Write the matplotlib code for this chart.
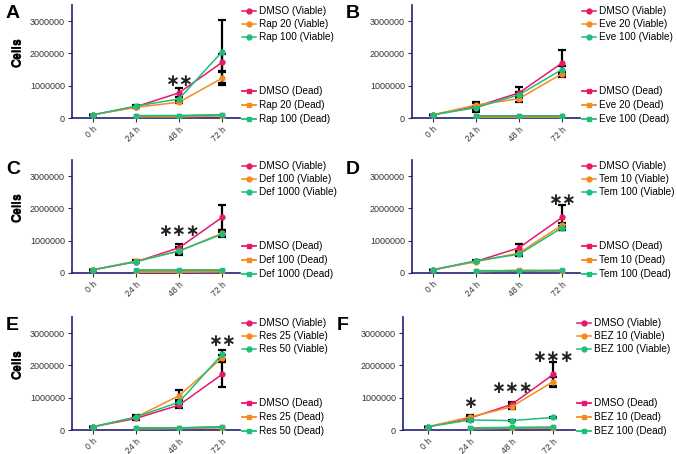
import matplotlib.pyplot as plt
from matplotlib.lines import Line2D

plt.rcParams['font.family'] = ['Liberation Sans', 'DejaVu Sans']

hours = ['0 h', '24 h', '48 h', '72 h']
x_viable = [0, 1, 2, 3]
x_dead = [1, 2, 3]

# panel A - rapamycin
a_names = ['DMSO', 'Rap 20', 'Rap 100']
a_viable = [[100000, 350000, 780000, 1720000],
            [100000, 330000, 490000, 1230000],
            [100000, 370000, 590000, 2050000]]
a_err = [[0, 20000, 140000, 270000],
         [0, 20000, 30000, 200000],
         [0, 20000, 70000, 980000]]
a_dead = [[60000, 60000, 90000], [40000, 40000, 70000], [70000, 75000, 100000]]

# panel B - everolimus
b_names = ['DMSO', 'Eve 20', 'Eve 100']
b_viable = [[100000, 350000, 780000, 1700000],
            [100000, 400000, 600000, 1370000],
            [100000, 320000, 720000, 1500000]]
b_err = [[0, 150000, 170000, 420000],
         [0, 80000, 100000, 50000],
         [0, 60000, 80000, 100000]]
b_dead = [[60000, 60000, 60000], [40000, 40000, 40000], [70000, 70000, 70000]]

# panel C - deforolimus
c_names = ['DMSO', 'Def 100', 'Def 1000']
c_viable = [[100000, 350000, 780000, 1720000],
            [100000, 370000, 680000, 1230000],
            [100000, 350000, 680000, 1200000]]
c_err = [[0, 20000, 120000, 400000],
         [0, 20000, 130000, 110000],
         [0, 20000, 100000, 60000]]
c_dead = [[60000, 60000, 70000], [30000, 30000, 40000], [80000, 80000, 80000]]

# panel D - temsirolimus
d_names = ['DMSO', 'Tem 10', 'Tem 100']
d_viable = [[100000, 360000, 780000, 1720000],
            [100000, 350000, 620000, 1480000],
            [100000, 380000, 580000, 1400000]]
d_err = [[0, 20000, 120000, 400000],
         [0, 20000, 50000, 70000],
         [0, 20000, 40000, 60000]]
d_dead = [[60000, 60000, 70000], [40000, 80000, 60000], [70000, 70000, 80000]]

# panel E - resveratrol
e_names = ['DMSO', 'Res 25', 'Res 50']
e_viable = [[100000, 360000, 770000, 1720000],
            [100000, 400000, 1060000, 2230000],
            [100000, 400000, 860000, 2340000]]
e_err = [[0, 20000, 90000, 400000],
         [0, 80000, 190000, 100000],
         [0, 40000, 60000, 130000]]
e_dead = [[60000, 60000, 90000], [40000, 50000, 70000], [60000, 60000, 100000]]

# panel F - BEZ235
f_names = ['DMSO', 'BEZ 10', 'BEZ 100']
f_viable = [[100000, 370000, 790000, 1720000],
            [100000, 400000, 720000, 1500000],
            [100000, 310000, 290000, 390000]]
f_err = [[0, 100000, 90000, 400000],
         [0, 20000, 80000, 130000],
         [0, 20000, 20000, 20000]]
f_dead = [[60000, 60000, 80000], [40000, 60000, 60000], [60000, 80000, 80000]]

stars_a = [(2, 1150000, '∗∗')]
stars_b = []
stars_c = [(2, 1300000, '∗∗∗')]
stars_d = [(3, 2250000, '∗∗')]
stars_e = [(3, 2750000, '∗∗')]
stars_f = [(1, 850000, '∗'), (2, 1300000, '∗∗∗'), (3, 2250000, '∗∗∗')]

colors = ['#e8186a', '#f58a1f', '#1dbf7a']
navy = '#20207a'

W, H = 677, 454
fig = plt.figure(figsize=(W / 100, H / 100), dpi=100)


def px_axes(left, top, right, bottom):
    return fig.add_axes([left / W, 1 - bottom / H, (right - left) / W, (bottom - top) / H])


def draw_panel(letter, box, xlim, names, viable, err, dead, stars):
    left, top, right, bottom = box
    ax = px_axes(left, top, right, bottom)
    for i in range(3):
        ax.errorbar(x_viable, viable[i], yerr=err[i], color='black', fmt='none',
                    capsize=3, elinewidth=1.6, capthick=1.6, zorder=2)
    for i in range(3):
        ax.plot(x_viable, viable[i], color=colors[i], marker='o', markersize=3.5,
                linewidth=1.1, zorder=3)
    for i in range(3):
        ax.plot(x_dead, dead[i], color=colors[i], marker='s', markersize=3.5,
                linewidth=1.3, zorder=3)
    for sx, sy, s in stars:
        ax.text(sx, sy, s, ha='center', va='center', fontsize=12, color='#222222',
                family='DejaVu Sans', fontweight='bold')

    ax.set_xlim(*xlim)
    ax.set_ylim(0, 3500000)
    ax.set_yticks([0, 1000000, 2000000, 3000000])
    ax.set_yticklabels(['0', '1000000', '2000000', '3000000'], fontsize=6.5)
    ax.set_xticks(x_viable)
    ax.set_xticklabels(hours, fontsize=6.2, rotation=45, ha='right', rotation_mode='anchor')
    ax.tick_params(length=3, width=0.8, colors='#333333', pad=2)
    for s in ['top', 'right']:
        ax.spines[s].set_visible(False)
    for s in ['left', 'bottom']:
        ax.spines[s].set_color(navy)
        ax.spines[s].set_linewidth(1.2)
    ax.set_ylabel('Cells', fontsize=9, fontweight='bold')
    ax.yaxis.set_label_coords((24 - left) / (right - left), 0.58)

    h_v = [Line2D([], [], color=colors[i], marker='o', markersize=3.5, linewidth=1.1)
           for i in range(3)]
    h_d = [Line2D([], [], color=colors[i], marker='s', markersize=3.5, linewidth=1.3)
           for i in range(3)]
    leg1 = ax.legend(h_v, [n + ' (Viable)' for n in names], loc='upper left',
                     bbox_to_anchor=((right + 2) / W, 1 - (top + 1) / H),
                     bbox_transform=fig.transFigure, frameon=False, fontsize=7.2,
                     handlelength=1.4, handletextpad=0.3, labelspacing=0.3,
                     borderpad=0, borderaxespad=0)
    ax.add_artist(leg1)
    ax.legend(h_d, [n + ' (Dead)' for n in names], loc='lower left',
              bbox_to_anchor=((right + 2) / W, 1 - (bottom + 6) / H),
              bbox_transform=fig.transFigure, frameon=False, fontsize=7.2,
              handlelength=1.4, handletextpad=0.3, labelspacing=0.4,
              borderpad=0, borderaxespad=0)
    fig.text((left - 66) / W, 1 - (top + 9) / H, letter, fontsize=14,
             fontweight='bold', ha='left', va='center')
    return ax


draw_panel('A', (72, 5, 240, 118), (-0.49, 3.42), a_names, a_viable, a_err, a_dead, stars_a)
draw_panel('B', (412, 5, 580, 118), (-0.49, 3.42), b_names, b_viable, b_err, b_dead, stars_b)
draw_panel('C', (72, 160, 240, 273), (-0.49, 3.42), c_names, c_viable, c_err, c_dead, stars_c)
draw_panel('D', (412, 160, 580, 273), (-0.49, 3.42), d_names, d_viable, d_err, d_dead, stars_d)
draw_panel('E', (72, 317, 240, 430), (-0.49, 3.42), e_names, e_viable, e_err, e_dead, stars_e)
draw_panel('F', (403, 317, 575, 430), (-0.6, 3.52), f_names, f_viable, f_err, f_dead, stars_f)

fig.savefig('out.png', dpi=100)
